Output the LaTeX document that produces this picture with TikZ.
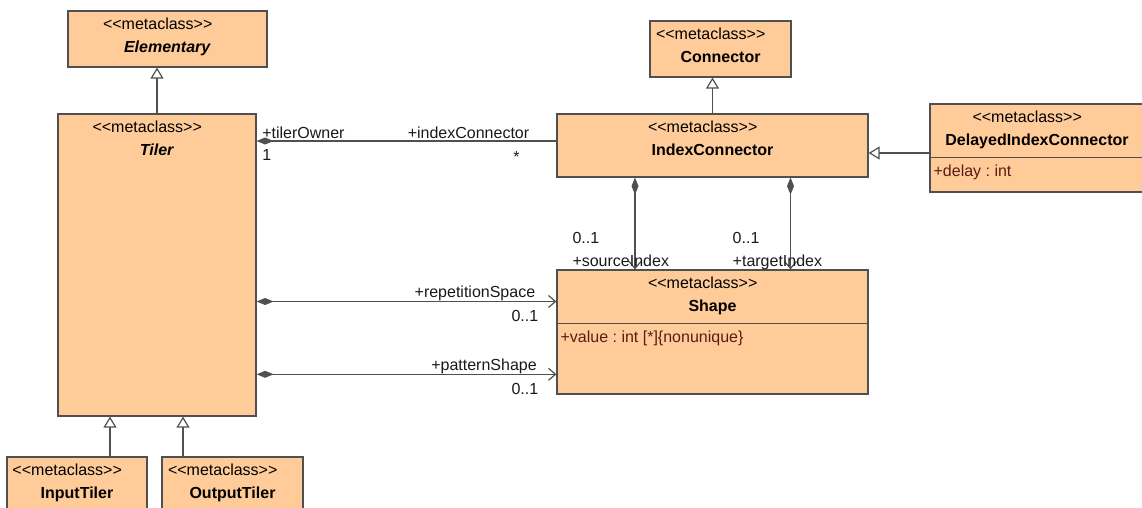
\documentclass[tikz,border=0pt]{standalone}
\usepackage{fontspec}
\setmainfont{Liberation Sans}[Ligatures=TeXOff]
\usepackage{xcolor}
\usetikzlibrary{positioning,arrows.meta}
\definecolor{clsfill}{RGB}{255,204,153}
\definecolor{clsline}{RGB}{80,80,80}
\definecolor{attrtext}{RGB}{90,28,20}
\newcommand{\stereo}{\makebox[129pt][l]{<<metaclass>>}}
\frenchspacing

\begin{document}
\begin{tikzpicture}[x=1pt, y=-1pt,
    every node/.style={font=\fontsize{16}{22.5}\selectfont},
    cls/.style 2 args={draw=clsline, fill=clsfill, line width=1.2pt, inner sep=0pt,
                       minimum width=#1, minimum height=#2},
    hd/.style={anchor=base, align=center, inner sep=0pt},
    attr/.style={anchor=base west, inner sep=0pt, text=attrtext},
    lbl/.style={inner sep=0pt, text=black!90},
    gen/.style={draw=clsline, line width=1.2pt,
                -{Triangle[open, length=11pt, width=13pt, fill=white]}},
    comp/.style={draw=clsline, line width=1.2pt, {Diamond[length=17pt, width=7pt]}-},
    compnav/.style={draw=clsline, line width=1.2pt,
                    {Diamond[length=17pt, width=7pt]}-{Straight Barb[length=7pt, width=12pt]}},
]
\useasboundingbox (0,0) rectangle (1142,508);
% class boxes (absolute coords, px)
\node[cls={199}{56}]  (elem)     at (167.5, 39)    {};
\node[cls={198}{302}] (tiler)    at (157, 265)     {};
\node[cls={141}{56}]  (conn)     at (720.5, 49)    {};
\node[cls={311}{63}]  (idx)      at (712.5, 145.5) {};
\node[cls={214}{88}]  (dic)      at (1037, 148)    {};
\node[cls={311}{124}] (shape)    at (712.5, 332)   {};
\node[cls={140}{56}]  (intiler)  at (77, 485)      {};
\node[cls={141}{56}]  (outtiler) at (232.5, 485)   {};
% headers (base = last line)
\node[hd] (elemhd)  at ([yshift=-42pt]elem.north)     {\stereo\\\textbf{\textit{Elementary}}};
\node[hd] (tilerhd) at ([yshift=-42pt]tiler.north)    {\stereo\\\textbf{\textit{Tiler}}};
\node[hd] (connhd)  at ([yshift=-42pt]conn.north)     {\stereo\\\textbf{Connector}};
\node[hd] (idxhd)   at ([yshift=-42pt]idx.north)      {\stereo\\\textbf{IndexConnector}};
\node[hd] (dichd)   at ([yshift=-42pt]dic.north)      {\stereo\\\textbf{DelayedIndexConnector}};
\node[hd] (shapehd) at ([yshift=-42pt]shape.north)    {\stereo\\\textbf{Shape}};
\node[hd] (inhd)    at ([yshift=-42pt]intiler.north)  {\stereo\\\textbf{InputTiler}};
\node[hd] (outhd)   at ([yshift=-42pt]outtiler.north) {\stereo\\\textbf{OutputTiler}};
% attribute compartments
\draw[clsline, line width=1.2pt] ([yshift=-54pt]shape.north west) -- ([yshift=-54pt]shape.north east);
\node[attr] (shapeval) at ([xshift=4pt, yshift=-73pt]shape.north west) {+value : int [*]\{nonunique\}};
\draw[clsline, line width=1.2pt] ([yshift=-54pt]dic.north west) -- ([yshift=-54pt]dic.north east);
\node[attr] (dicdelay) at ([xshift=4pt, yshift=-73pt]dic.north west) {+delay : int};
% generalisations
\draw[gen] (tiler.north) -- (tiler.north |- elem.south);
\draw[gen] (idx.north) -- (idx.north |- conn.south);
\coordinate (inup) at ([xshift=33pt]intiler.north);
\draw[gen] (inup) -- (inup |- tiler.south);
\coordinate (outup) at ([xshift=-49.5pt]outtiler.north);
\draw[gen] (outup) -- (outup |- tiler.south);
\coordinate (dicin) at ([yshift=-5pt]dic.west);
\draw[gen] (dicin) -- (dicin -| idx.east);
% compositions
\coordinate (ownB) at ([yshift=4.5pt]idx.west);
\coordinate (ownA) at (tiler.east |- ownB);
\draw[comp] (ownA) -- (ownB);
\coordinate (repB) at ([yshift=30.5pt]shape.west);
\coordinate (repA) at (tiler.east |- repB);
\draw[compnav] (repA) -- (repB);
\coordinate (patB) at ([yshift=-42.3pt]shape.west);
\coordinate (patA) at (tiler.east |- patB);
\draw[compnav] (patA) -- (patB);
\coordinate (srcA) at ([xshift=-77.5pt]idx.south);
\coordinate (srcB) at (srcA |- shape.north);
\draw[compnav] (srcA) -- (srcB);
\coordinate (tgtA) at ([xshift=78pt]idx.south);
\coordinate (tgtB) at (tgtA |- shape.north);
\draw[compnav] (tgtA) -- (tgtB);
% role names and multiplicities
\node[lbl, anchor=base west] (ownrole) at ([xshift=5.5pt, yshift=2.8pt]ownA)   {+tilerOwner};
\node[lbl, anchor=base west] (ownmul)  at ([xshift=5.5pt, yshift=-19.4pt]ownA) {1};
\node[lbl, anchor=base east] (idxrole) at ([xshift=-27pt, yshift=2.8pt]ownB)   {+indexConnector};
\node[lbl, anchor=base]      (idxmul)  at ([xshift=-40pt, yshift=-21pt]ownB)   {*};
\node[lbl, anchor=base east] (reprole) at ([xshift=-21pt, yshift=4pt]repB)     {+repetitionSpace};
\node[lbl, anchor=base east] (repmul)  at ([xshift=-18pt, yshift=-20pt]repB)   {0..1};
\node[lbl, anchor=base east] (patrole) at ([xshift=-19.5pt, yshift=4pt]patB)   {+patternShape};
\node[lbl, anchor=base east] (patmul)  at ([xshift=-18pt, yshift=-20pt]patB)   {0..1};
\node[lbl, anchor=base west] (srcmul)  at ([xshift=-62.7pt, yshift=26pt]srcB)  {0..1};
\node[lbl, anchor=base west] (srcrole) at ([xshift=-62.7pt, yshift=3.3pt]srcB) {+sourceIndex};
\node[lbl, anchor=base west] (tgtmul)  at ([xshift=-58pt, yshift=26pt]tgtB)    {0..1};
\node[lbl, anchor=base west] (tgtrole) at ([xshift=-58pt, yshift=3.3pt]tgtB)   {+targetIndex};
\end{tikzpicture}
\end{document}
